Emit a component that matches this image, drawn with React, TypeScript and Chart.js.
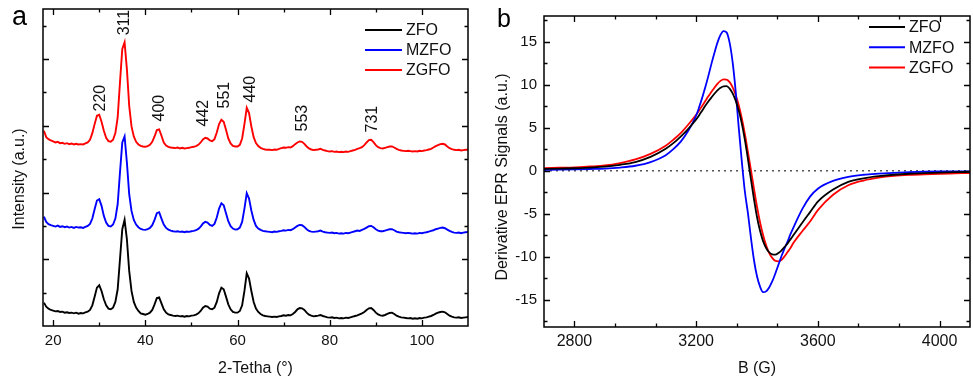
import React, { useEffect, useRef } from "react";
import { Chart, registerables } from "chart.js";
Chart.register(...registerables);

const FONT = "'Liberation Sans', Arial, Helvetica, sans-serif";
const TEXT = "#111";

// ---------- Panel a : XRD ----------
const XRD_X = [18,18.5,19,19.5,20,20.5,21,21.5,22,22.5,23,23.5,24,24.5,25,25.5,26,26.5,27,27.5,28,28.5,29,29.5,30,30.5,31,31.5,32,32.5,33,33.5,34,34.5,35,35.5,36,36.5,37,37.5,38,38.5,39,39.5,40,40.5,41,41.5,42,42.5,43,43.5,44,44.5,45,45.5,46,46.5,47,47.5,48,48.5,49,49.5,50,50.5,51,51.5,52,52.5,53,53.5,54,54.5,55,55.5,56,56.5,57,57.5,58,58.5,59,59.5,60,60.5,61,61.5,62,62.5,63,63.5,64,64.5,65,65.5,66,66.5,67,67.5,68,68.5,69,69.5,70,70.5,71,71.5,72,72.5,73,73.5,74,74.5,75,75.5,76,76.5,77,77.5,78,78.5,79,79.5,80,80.5,81,81.5,82,82.5,83,83.5,84,84.5,85,85.5,86,86.5,87,87.5,88,88.5,89,89.5,90,90.5,91,91.5,92,92.5,93,93.5,94,94.5,95,95.5,96,96.5,97,97.5,98,98.5,99,99.5,100,100.5,101,101.5,102,102.5,103,103.5,104,104.5,105,105.5,106,106.5,107,107.5,108,108.5,109,109.5,110];

const XRD_ZFO = [
  0.70,0.58,0.52,0.48,0.46,0.44,0.45,0.42,0.43,0.40,
  0.41,0.39,0.40,0.38,0.40,0.37,0.39,0.38,0.41,0.43,
  0.48,0.62,0.88,1.15,1.22,1.05,0.80,0.62,0.52,0.50,
  0.55,0.72,1.10,2.00,2.90,3.18,2.60,1.65,1.05,0.72,
  0.55,0.45,0.38,0.36,0.34,0.36,0.40,0.48,0.65,0.84,
  0.86,0.68,0.50,0.40,0.35,0.33,0.31,0.30,0.31,0.29,
  0.30,0.28,0.30,0.29,0.31,0.32,0.34,0.38,0.45,0.55,
  0.60,0.58,0.52,0.50,0.55,0.72,0.98,1.15,1.10,0.88,
  0.65,0.50,0.42,0.40,0.40,0.45,0.62,1.05,1.58,1.42,
  1.05,0.72,0.52,0.42,0.36,0.32,0.30,0.29,0.28,0.27,
  0.28,0.27,0.29,0.30,0.32,0.31,0.33,0.32,0.36,0.42,
  0.50,0.54,0.53,0.48,0.40,0.34,0.31,0.29,0.30,0.31,
  0.33,0.30,0.28,0.26,0.25,0.26,0.24,0.25,0.23,0.24,
  0.23,0.25,0.24,0.26,0.28,0.30,0.32,0.35,0.38,0.42,
  0.48,0.53,0.54,0.48,0.40,0.35,0.32,0.31,0.33,0.36,
  0.39,0.40,0.36,0.31,0.28,0.26,0.25,0.24,0.23,0.24,
  0.22,0.23,0.22,0.24,0.23,0.25,0.26,0.28,0.30,0.33,
  0.37,0.40,0.42,0.43,0.41,0.36,0.31,0.28,0.26,0.25,
  0.26,0.24,0.25,0.26,0.27
];

const XRD_MZFO = [
  3.28,3.12,3.05,3.02,3.00,2.98,3.01,2.97,2.99,2.96,
  2.98,2.95,2.97,2.94,2.97,2.95,2.96,2.94,2.97,3.00,
  3.06,3.22,3.50,3.76,3.80,3.60,3.30,3.10,3.00,2.98,
  3.04,3.22,3.65,4.60,5.50,5.68,4.90,3.95,3.45,3.18,
  3.04,2.96,2.91,2.89,2.88,2.90,2.94,3.02,3.18,3.38,
  3.41,3.22,3.04,2.94,2.89,2.86,2.84,2.83,2.84,2.82,
  2.83,2.81,2.83,2.82,2.84,2.85,2.87,2.91,2.98,3.07,
  3.12,3.10,3.03,3.00,3.06,3.25,3.52,3.68,3.62,3.38,
  3.14,2.99,2.92,2.89,2.90,2.95,3.12,3.52,3.98,3.82,
  3.46,3.18,3.00,2.92,2.88,2.85,2.84,2.83,2.82,2.81,
  2.83,2.82,2.84,2.85,2.87,2.86,2.88,2.87,2.90,2.95,
  3.00,3.03,3.02,2.97,2.90,2.85,2.83,2.82,2.83,2.84,
  2.86,2.83,2.81,2.80,2.79,2.80,2.78,2.79,2.77,2.78,
  2.77,2.79,2.78,2.80,2.82,2.84,2.86,2.85,2.88,2.91,
  2.95,2.99,3.00,2.96,2.90,2.86,2.84,2.84,2.86,2.88,
  2.90,2.90,2.87,2.83,2.81,2.80,2.79,2.78,2.79,2.78,
  2.77,2.78,2.77,2.79,2.78,2.80,2.81,2.83,2.85,2.87,
  2.90,2.92,2.94,2.95,2.93,2.89,2.85,2.82,2.80,2.79,
  2.80,2.78,2.80,2.81,2.82
];

const XRD_ZGFO = [
  5.85,5.66,5.60,5.56,5.53,5.50,5.52,5.48,5.49,5.46,
  5.48,5.45,5.47,5.44,5.46,5.44,5.45,5.44,5.47,5.50,
  5.58,5.78,6.05,6.30,6.33,6.12,5.85,5.64,5.54,5.52,
  5.58,5.78,6.25,7.30,8.30,8.50,7.70,6.60,5.98,5.68,
  5.52,5.44,5.40,5.38,5.37,5.39,5.43,5.52,5.68,5.87,
  5.89,5.70,5.50,5.41,5.37,5.35,5.34,5.33,5.35,5.32,
  5.34,5.32,5.33,5.34,5.36,5.37,5.39,5.43,5.50,5.59,
  5.64,5.62,5.56,5.54,5.60,5.80,6.05,6.18,6.12,5.88,
  5.62,5.47,5.40,5.38,5.38,5.43,5.62,6.05,6.54,6.38,
  5.98,5.66,5.48,5.39,5.34,5.31,5.29,5.28,5.28,5.27,
  5.29,5.28,5.31,5.33,5.35,5.34,5.36,5.35,5.39,5.45,
  5.50,5.53,5.52,5.46,5.38,5.32,5.29,5.27,5.28,5.29,
  5.31,5.28,5.26,5.24,5.23,5.24,5.22,5.23,5.21,5.22,
  5.21,5.23,5.22,5.24,5.26,5.28,5.31,5.33,5.36,5.42,
  5.50,5.57,5.58,5.51,5.42,5.36,5.33,5.32,5.34,5.36,
  5.38,5.38,5.35,5.31,5.28,5.26,5.25,5.24,5.25,5.24,
  5.23,5.24,5.23,5.25,5.24,5.26,5.27,5.29,5.31,5.35,
  5.39,5.42,5.45,5.46,5.44,5.38,5.33,5.30,5.28,5.27,
  5.28,5.26,5.27,5.28,5.28
];

const XRD_X_TICKS = [20, 40, 60, 80, 100];
const XRD_X_MINOR = [30, 50, 70, 90];
const XRD_Y_MAJOR = [2, 4, 6, 8];
const XRD_Y_MINOR = [1, 3, 5, 7, 9];

const PEAK_LABELS = ["220", "311", "400", "442", "551", "440", "553", "731"];
const PEAK_POS = [30.2, 35.4, 43.0, 52.7, 57.3, 62.9, 74.2, 89.3];
const PEAK_BASE = [6.43, 8.71, 6.13, 5.98, 6.52, 6.70, 5.83, 5.80];

// ---------- Panel b : EPR ----------
const EPR_B = [2700,2750,2800,2850,2900,2950,3000,3050,3100,3125,3150,3175,
  3200,3210,3220,3230,3240,3250,3260,3270,3280,3290,3300,3310,3320,3330,3340,3350,3360,3370,3380,3390,3400,3410,3420,3430,3440,3450,3460,3470,3480,3490,3500,3510,3520,
  3550,3575,3600,3650,3700,3750,3800,3850,3900,3950,4000,4050,4100];

const EPR_ZFO = [0.20,0.24,0.28,0.36,0.46,0.68,1.00,1.60,2.55,3.20,4.00,4.90,
  5.95,6.45,7.00,7.55,8.05,8.50,8.95,9.35,9.65,9.82,9.83,9.55,9.00,8.15,7.00,5.50,3.60,1.40,-1.00,-3.30,-5.40,-7.00,-8.20,-9.00,-9.50,-9.75,-9.78,-9.60,-9.30,-8.90,-8.50,-8.00,-7.50,
  -6.00,-4.80,-3.60,-2.20,-1.30,-0.90,-0.65,-0.48,-0.36,-0.28,-0.22,-0.18,-0.15];

const EPR_MZFO = [0.10,0.12,0.15,0.19,0.24,0.36,0.57,1.00,1.80,2.50,3.40,4.70,
  6.40,7.40,8.50,9.70,11.00,12.40,13.70,14.90,15.80,16.25,16.10,14.90,12.60,9.20,5.00,1.10,-2.40,-4.90,-7.80,-10.40,-12.30,-13.50,-14.15,-14.05,-13.60,-12.90,-12.00,-11.00,-10.00,-9.10,-8.30,-7.40,-6.60,
  -4.40,-3.00,-2.10,-1.20,-0.72,-0.48,-0.35,-0.25,-0.18,-0.13,-0.10,-0.09,-0.08];

const EPR_ZGFO = [0.30,0.34,0.38,0.48,0.60,0.88,1.30,1.95,2.90,3.60,4.40,5.40,
  6.50,7.00,7.55,8.10,8.65,9.15,9.65,10.10,10.45,10.62,10.60,10.30,9.70,8.80,7.60,6.10,4.30,2.20,0.10,-2.10,-4.20,-6.00,-7.50,-8.70,-9.60,-10.15,-10.50,-10.57,-10.40,-10.00,-9.50,-9.00,-8.40,
  -7.00,-5.90,-4.60,-2.80,-1.70,-1.15,-0.82,-0.62,-0.50,-0.42,-0.36,-0.32,-0.28];

const EPR_X_TICKS = [2800, 3200, 3600, 4000];
const EPR_X_MINOR = [2933.33, 3066.67, 3333.33, 3466.67, 3733.33, 3866.67];
const EPR_Y_TICKS = [-15, -10, -5, 0, 5, 10, 15];
const EPR_Y_MINOR = [-17.5, -12.5, -7.5, -2.5, 2.5, 7.5, 12.5, 17.5];

const SERIES_NAMES = ["ZFO", "MZFO", "ZGFO"];
const SERIES_COLORS = ["#000000", "#0000ff", "#ff0000"];

type Deco = {
  id: string;
  xMajor: number[]; xMinor: number[]; yMajor: number[]; yMinor: number[];
  zeroLine?: number;
  legendX1: number; legendX2: number; legendTextX: number; legendY: number; legendStep: number;
  panel: string; panelX: number; panelY: number; panelSize: number;
  yTitle: string; yTitleX: number; yTitleY: number;
  peaks?: boolean;
};

function decoPlugin(d: Deco) {
  return {
    id: d.id,
    beforeDatasetsDraw(chart: any) {
      if (d.zeroLine === undefined) return;
      const { ctx, chartArea } = chart;
      const y = chart.scales.y.getPixelForValue(d.zeroLine);
      ctx.save();
      ctx.setLineDash([2, 4]);
      ctx.strokeStyle = "#555";
      ctx.lineWidth = 1.5;
      ctx.beginPath();
      ctx.moveTo(chartArea.left, y);
      ctx.lineTo(chartArea.right, y);
      ctx.stroke();
      ctx.restore();
    },
    afterDraw(chart: any) {
      const { ctx, chartArea } = chart;
      const { left, right, top, bottom } = chartArea;
      const xs = chart.scales.x;
      const ys = chart.scales.y;
      ctx.save();
      ctx.strokeStyle = "#000";
      ctx.lineWidth = 1.3;
      const vTicks = (vals: number[], len: number) => {
        vals.forEach((v) => {
          const p = Math.round(xs.getPixelForValue(v)) + 0.5;
          if (p <= left + 1 || p >= right - 1) return;
          ctx.beginPath();
          ctx.moveTo(p, bottom); ctx.lineTo(p, bottom - len);
          ctx.moveTo(p, top); ctx.lineTo(p, top + len);
          ctx.stroke();
        });
      };
      const hTicks = (vals: number[], len: number) => {
        vals.forEach((v) => {
          const p = Math.round(ys.getPixelForValue(v)) + 0.5;
          if (p <= top + 1 || p >= bottom - 1) return;
          ctx.beginPath();
          ctx.moveTo(left, p); ctx.lineTo(left + len, p);
          ctx.moveTo(right, p); ctx.lineTo(right - len, p);
          ctx.stroke();
        });
      };
      vTicks(d.xMajor, 6);
      vTicks(d.xMinor, 3.5);
      hTicks(d.yMajor, 6);
      hTicks(d.yMinor, 3.5);
      ctx.lineWidth = 1.5;
      ctx.strokeRect(left, top, right - left, bottom - top);

      // legend
      ctx.font = `16px ${FONT}`;
      ctx.textBaseline = "middle";
      ctx.textAlign = "left";
      chart.data.datasets.forEach((ds: any, i: number) => {
        const y = d.legendY + i * d.legendStep;
        ctx.strokeStyle = ds.borderColor;
        ctx.lineWidth = 2;
        ctx.beginPath();
        ctx.moveTo(d.legendX1, y);
        ctx.lineTo(d.legendX2, y);
        ctx.stroke();
        ctx.fillStyle = TEXT;
        ctx.fillText(ds.label, d.legendTextX, y + 1);
      });

      // peak labels
      if (d.peaks) {
        ctx.font = `16px ${FONT}`;
        ctx.fillStyle = TEXT;
        PEAK_LABELS.forEach((lab, i) => {
          const px = xs.getPixelForValue(PEAK_POS[i]);
          const py = ys.getPixelForValue(PEAK_BASE[i]);
          ctx.save();
          ctx.translate(px, py);
          ctx.rotate(-Math.PI / 2);
          ctx.textAlign = "left";
          ctx.textBaseline = "middle";
          ctx.fillText(lab, 0, 0);
          ctx.restore();
        });
      }

      // y title
      ctx.save();
      ctx.font = `16px ${FONT}`;
      ctx.fillStyle = TEXT;
      ctx.translate(d.yTitleX, d.yTitleY);
      ctx.rotate(-Math.PI / 2);
      ctx.textAlign = "center";
      ctx.textBaseline = "middle";
      ctx.fillText(d.yTitle, 0, 0);
      ctx.restore();

      // panel letter
      ctx.font = `${d.panelSize}px ${FONT}`;
      ctx.fillStyle = "#000";
      ctx.textAlign = "left";
      ctx.textBaseline = "alphabetic";
      ctx.fillText(d.panel, d.panelX, d.panelY);
      ctx.restore();
    },
  };
}

function pairs(xs: number[], ys: number[]) {
  return xs.map((x, i) => ({ x, y: ys[i] }));
}

function tickFont(size: number) {
  return { size, family: FONT };
}

const plainLabel = (v: any) => String(v);

function configA(): any {
  const series = [XRD_ZFO, XRD_MZFO, XRD_ZGFO];
  return {
    type: "line",
    data: {
      datasets: series.map((s, i) => ({
        label: SERIES_NAMES[i],
        data: pairs(XRD_X, s),
        borderColor: SERIES_COLORS[i],
        borderWidth: 1.9,
        pointRadius: 0,
        tension: 0,
        fill: false,
      })),
    },
    options: {
      responsive: false,
      animation: false,
      devicePixelRatio: 1,
      events: [],
      layout: { padding: { left: 0, right: 18, top: 9, bottom: 0 } },
      plugins: { legend: { display: false }, tooltip: { enabled: false } },
      scales: {
        x: {
          type: "linear",
          min: 17.8,
          max: 110,
          grid: { display: false, drawTicks: false },
          border: { display: false },
          ticks: { font: tickFont(15), color: TEXT, padding: 6, maxRotation: 0, autoSkip: false, callback: plainLabel },
          afterBuildTicks: (s: any) => { s.ticks = XRD_X_TICKS.map((v) => ({ value: v })); },
          afterFit: (s: any) => { s.height = 55; },
          title: { display: true, text: "2-Tetha (°)", font: { size: 16, family: FONT }, color: TEXT, padding: { top: 0, bottom: 3 } },
        },
        y: {
          type: "linear",
          min: 0,
          max: 9.5,
          grid: { display: false, drawTicks: false },
          border: { display: false },
          ticks: { display: false },
          afterFit: (s: any) => { s.width = 43; },
        },
      },
    },
    plugins: [
      decoPlugin({
        id: "decoA",
        xMajor: XRD_X_TICKS, xMinor: XRD_X_MINOR, yMajor: XRD_Y_MAJOR, yMinor: XRD_Y_MINOR,
        legendX1: 365, legendX2: 402, legendTextX: 406, legendY: 30, legendStep: 20,
        panel: "a", panelX: 12, panelY: 25, panelSize: 27,
        yTitle: "Intensity (a.u.)", yTitleX: 20, yTitleY: 179,
        peaks: true,
      }),
    ],
  };
}

function configB(): any {
  const series = [EPR_ZFO, EPR_MZFO, EPR_ZGFO];
  return {
    type: "line",
    data: {
      datasets: series.map((s, i) => ({
        label: SERIES_NAMES[i],
        data: pairs(EPR_B, s),
        borderColor: SERIES_COLORS[i],
        borderWidth: 1.8,
        pointRadius: 0,
        cubicInterpolationMode: "monotone",
        fill: false,
      })),
    },
    options: {
      responsive: false,
      animation: false,
      devicePixelRatio: 1,
      events: [],
      layout: { padding: { left: 0, right: 3, top: 9, bottom: 0 } },
      plugins: { legend: { display: false }, tooltip: { enabled: false } },
      scales: {
        x: {
          type: "linear",
          min: 2700,
          max: 4100,
          grid: { display: false, drawTicks: false },
          border: { display: false },
          ticks: { font: tickFont(16), color: TEXT, padding: 5, maxRotation: 0, autoSkip: false, callback: plainLabel },
          afterBuildTicks: (s: any) => { s.ticks = EPR_X_TICKS.map((v) => ({ value: v })); },
          afterFit: (s: any) => { s.height = 54; },
          title: { display: true, text: "B (G)", font: { size: 16, family: FONT }, color: TEXT, padding: { top: 0, bottom: 3 } },
        },
        y: {
          type: "linear",
          min: -18.2,
          max: 18,
          grid: { display: false, drawTicks: false },
          border: { display: false },
          ticks: { font: tickFont(15), color: TEXT, padding: 7, autoSkip: false, callback: plainLabel },
          afterBuildTicks: (s: any) => { s.ticks = EPR_Y_TICKS.map((v) => ({ value: v })); },
          afterFit: (s: any) => { s.width = 58; },
        },
      },
    },
    plugins: [
      decoPlugin({
        id: "decoB",
        xMajor: EPR_X_TICKS, xMinor: EPR_X_MINOR, yMajor: EPR_Y_TICKS, yMinor: EPR_Y_MINOR,
        zeroLine: 0,
        legendX1: 383, legendX2: 419, legendTextX: 423, legendY: 27, legendStep: 20.3,
        panel: "b", panelX: 11, panelY: 27, panelSize: 25,
        yTitle: "Derivative EPR Signals (a.u.)", yTitleX: 16.5, yTitleY: 177,
      }),
    ],
  };
}

export default function App() {
  const refA = useRef<HTMLCanvasElement>(null);
  const refB = useRef<HTMLCanvasElement>(null);
  useEffect(() => {
    Chart.defaults.font.family = FONT;
    const a = new Chart(refA.current as HTMLCanvasElement, configA());
    const b = new Chart(refB.current as HTMLCanvasElement, configB());
    return () => {
      a.destroy();
      b.destroy();
    };
  }, []);
  return (
    <div style={{ position: "fixed", left: 0, top: 0, width: 973, height: 381, background: "#fff" }}>
      <canvas ref={refA} width={486} height={381} style={{ position: "absolute", left: 0, top: 0, width: 486, height: 381 }} />
      <canvas ref={refB} width={487} height={381} style={{ position: "absolute", left: 486, top: 0, width: 487, height: 381 }} />
    </div>
  );
}
